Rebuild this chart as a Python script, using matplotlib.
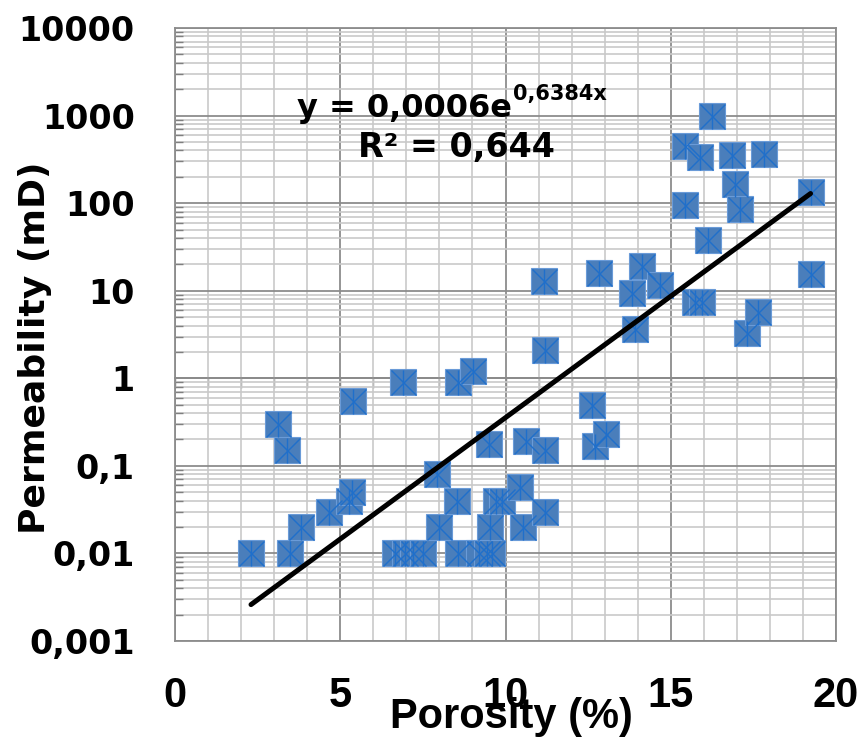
import matplotlib
matplotlib.use('Agg')
import matplotlib.pyplot as plt
import numpy as np
from matplotlib.ticker import FixedLocator, LogLocator, NullFormatter

# ---- data ----
porosity = [2.30, 3.13, 3.40, 3.48, 3.81, 4.67, 5.25, 5.35, 5.39,
            6.65, 6.95, 7.20, 7.50, 6.91, 7.93, 8.00, 8.52, 8.57, 8.57,
            9.03, 9.20, 9.45, 9.60, 9.53, 9.50, 9.70, 9.90,
            10.44, 10.54, 10.61, 11.20, 11.20, 11.20, 11.15,
            12.61, 12.71, 13.04, 12.83, 13.82, 13.92, 14.12, 14.67,
            15.43, 15.43, 15.73, 15.94, 15.90, 16.14, 16.24, 16.84,
            16.94, 17.10, 17.32, 17.65, 17.82, 19.23, 19.23]
permeability = [0.010, 0.30, 0.15, 0.010, 0.020, 0.030, 0.040, 0.050, 0.55,
                0.010, 0.010, 0.010, 0.010, 0.90, 0.080, 0.020, 0.040, 0.90, 0.010,
                1.2, 0.010, 0.010, 0.010, 0.020, 0.18, 0.040, 0.040,
                0.058, 0.020, 0.19, 0.15, 0.030, 2.1, 13.0,
                0.49, 0.17, 0.23, 16.0, 9.4, 3.65, 19.0, 11.5,
                96.0, 446.0, 7.5, 7.5, 334.0, 38.0, 980.0, 358.0,
                167.0, 86.0, 3.3, 5.65, 368.0, 133.0, 15.5]

x_ticks = [0, 5, 10, 15, 20]
x_tick_labels = ['0', '5', '10', '15', '20']
y_ticks = [0.001, 0.01, 0.1, 1, 10, 100, 1000, 10000]
y_tick_labels = ['0,001', '0,01', '0,1', '1', '10', '100', '1000', '10000']

fit_a = 0.0006
fit_b = 0.6384
equation_text = 'y = 0,0006e'
equation_exp = '0,6384x'
r2_text = 'R² = 0,644'
x_label = 'Porosity (%)'
y_label = 'Permeability (mD)'

W, H = 865, 743
fig = plt.figure(figsize=(W / 100, H / 100), dpi=100)
ax = fig.add_axes([175 / W, 1 - 641 / H, (836 - 175) / W, (641 - 28) / H])
ax.set_yscale('log')
ax.set_xlim(0, 20)
ax.set_ylim(0.001, 10000)

# grid
ax.set_xticks(x_ticks)
ax.set_xticklabels(x_tick_labels, fontfamily='Liberation Sans', fontweight='bold', fontsize=30)
ax.xaxis.set_minor_locator(FixedLocator(list(range(0, 21))))
ax.set_yticks(y_ticks)
ax.set_yticklabels(y_tick_labels, fontfamily='DejaVu Sans', fontweight='bold', fontsize=24)
ax.yaxis.set_minor_locator(LogLocator(base=10, subs=range(2, 10), numticks=30))
ax.yaxis.set_minor_formatter(NullFormatter())
ax.grid(which='minor', color='#c9c9c9', lw=1.2)
ax.grid(which='major', color='#8c8c8c', lw=1.3)
ax.set_axisbelow(True)
ax.tick_params(axis='x', which='both', length=0, pad=25)
ax.tick_params(axis='y', which='major', length=0, pad=29)
ax.tick_params(axis='y', which='minor', direction='in', length=6, color='#7f7f7f', width=1.0)
for s in ax.spines.values():
    s.set_color('#8c8c8c')
    s.set_linewidth(1.3)

# horizontal axis line crossing at y = 1 (Excel style)
lo, hi = np.log10(ax.get_ylim())
sec = ax.secondary_xaxis((0 - lo) / (hi - lo))
sec.set_xticks(x_ticks)
sec.xaxis.set_minor_locator(FixedLocator(list(range(0, 21))))
sec.tick_params(which='both', direction='out', length=7, color='#7f7f7f', width=1.0,
                labelbottom=False, labeltop=False)
for s in sec.spines.values():
    s.set_color('#7f7f7f')
    s.set_linewidth(1.3)

# markers
ax.plot(porosity, permeability, ls='none', marker='s', ms=18.5, mfc='#4a7ebb',
        mec='#6a9bd8', mew=0.8, zorder=3)
ax.plot(porosity, permeability, ls='none', marker='x', ms=18, mec='#1f6fcb', mew=1.0, zorder=3)
ax.plot(porosity, permeability, ls='none', marker='|', ms=18, mec='#1f6fcb', mew=1.0, zorder=3)

# trendline
x_fit = np.linspace(min(porosity), max(porosity), 200)
ax.plot(x_fit, fit_a * np.exp(fit_b * x_fit), color='black', lw=3.6, zorder=4,
        solid_capstyle='round')

# equation
t1 = fig.text(297 / W, 1 - 117 / H, equation_text, fontfamily='DejaVu Sans',
              fontweight='bold', fontsize=23, ha='left', va='baseline')
ax.annotate(equation_exp, xy=(1.0, 0.0), xycoords=t1, xytext=(1, 17),
            textcoords='offset points', fontfamily='DejaVu Sans', fontweight='bold',
            fontsize=15, ha='left', va='baseline')
fig.text(358 / W, 1 - 157 / H, r2_text, fontfamily='DejaVu Sans', fontweight='bold',
         fontsize=24, ha='left', va='baseline')

# axis labels
fig.text(511 / W, 1 - 728 / H, x_label, fontfamily='Liberation Sans', fontweight='bold',
         fontsize=30, ha='center', va='baseline')
fig.text(35 / W, 1 - 348 / H, y_label, fontfamily='DejaVu Sans', fontweight='bold',
         fontsize=26, rotation=90, ha='center', va='center')

fig.savefig('out.png', dpi=100)
